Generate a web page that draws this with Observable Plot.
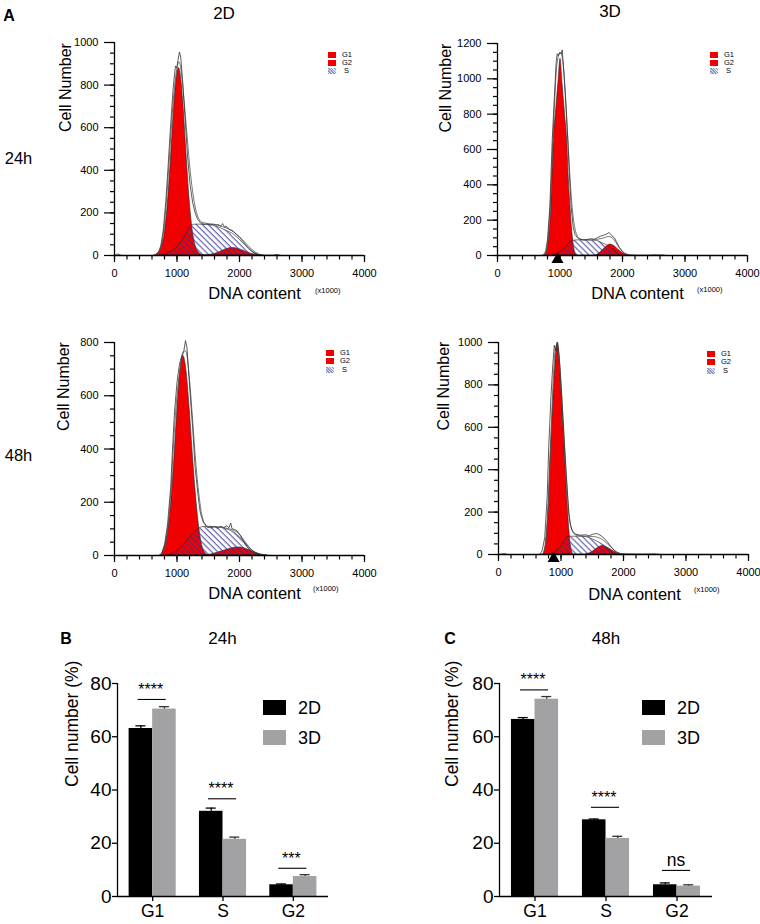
<!DOCTYPE html>
<html><head><meta charset="utf-8">
<script src="https://cdn.jsdelivr.net/npm/d3@7"></script>
<script src="https://cdn.jsdelivr.net/npm/@observablehq/plot@0.6"></script>
<style>
body{margin:0;background:#fff;font-family:"Liberation Sans",Arial,Helvetica,sans-serif;color:#000;}
#page{position:relative;width:760px;height:924px;overflow:hidden;background:#fff;}
.panel{position:absolute;}
.lbl{position:absolute;transform:translate(-50%,-50%);white-space:nowrap;line-height:1;}
.lft{position:absolute;transform:translate(0,-50%);white-space:nowrap;line-height:1;}
.sw{position:absolute;}
</style></head>
<body><div id="page">
<svg width="0" height="0" style="position:absolute"><defs>
<pattern id="hatchS" patternUnits="userSpaceOnUse" width="4.2" height="4.2" patternTransform="rotate(-45)">
<line x1="1" y1="0" x2="1" y2="4.2" stroke="#34348c" stroke-width="0.9"/></pattern>
</defs></svg>
</div>
<script>
// ---------- tick labels ----------
const xMajor = [0, 1000, 2000, 3000, 4000];
const yMajor24_2D = [0, 200, 400, 600, 800, 1000];
const yMajor24_3D = [0, 200, 400, 600, 800, 1000, 1200];
const yMajor48_2D = [0, 200, 400, 600, 800];
const yMajor48_3D = [0, 200, 400, 600, 800, 1000];
const barTicks = [0, 20, 40, 60, 80];
const phases = ["G1", "S", "G2"];
const groups = ["2D", "3D"];

// ---------- histogram curves [DNA content (x1000), cell number] ----------
// 2D 24h
const h24_2D_G1 = [[650,0],[700,10],[750,34],[800,99],[850,231],[900,438],[950,676],[1000,848],[1030,880],[1050,865],[1100,719],[1150,485],[1200,267],[1250,119],[1300,43],[1350,13],[1400,3],[1450,0]];
const h24_2D_G2 = [[1450,0],[1550,4],[1650,12],[1750,25],[1800,31],[1880,35],[1950,33],[2050,24],[2150,12],[2250,4],[2350,0]];
const h24_2D_S  = [[750,0],[850,8],[950,25],[1050,55],[1150,100],[1200,128],[1250,142],[1300,145],[1400,145],[1500,143],[1600,138],[1700,128],[1800,115],[1900,100],[2000,75],[2100,45],[2200,18],[2300,3],[2350,0]];
const h24_2D_raw = [[0,0],[30,5],[60,7],[90,3],[120,0],[620,0],[660,4],[700,14],[740,45],[780,120],[820,250],[860,430],[900,620],[940,790],[975,890],[995,880],[1015,915],[1040,955],[1060,930],[1090,820],[1130,640],[1170,460],[1210,330],[1250,250],[1290,200],[1330,170],[1380,152],[1430,146],[1480,148],[1530,144],[1580,147],[1620,143],[1660,145],[1700,138],[1730,150],[1760,134],[1800,135],[1840,122],[1880,118],[1920,108],[1960,95],[2000,85],[2050,68],[2100,50],[2150,34],[2200,20],[2250,10],[2300,5],[2400,2],[2550,2],[2600,5],[2650,1],[2700,0],[4000,0]];
const h24_2D_fit = [[600,0],[700,12],[750,48],[800,150],[850,330],[900,560],[950,760],[1000,880],[1030,910],[1060,880],[1100,770],[1150,600],[1200,430],[1250,300],[1300,215],[1350,172],[1400,156],[1500,150],[1600,146],[1700,138],[1800,128],[1900,112],[2000,88],[2100,58],[2200,28],[2300,8],[2400,0]];
// 3D 24h
const h24_3D_G1 = [[760,0],[790,20],[820,85],[860,270],[900,650],[940,830],[980,1000],[1008,1113],[1040,975],[1080,800],[1115,650],[1140,440],[1168,273],[1190,160],[1211,85],[1240,20],[1270,0]];
const h24_3D_G2 = [[1580,0],[1650,18],[1720,42],[1808,62],[1880,50],[1950,28],[2020,10],[2080,0]];
const h24_3D_S  = [[880,0],[950,10],[1050,30],[1120,55],[1168,75],[1220,84],[1300,86],[1400,86],[1500,85],[1600,82],[1700,66],[1760,57],[1850,35],[1920,12],[1970,0]];
const h24_3D_raw = [[0,0],[700,0],[740,5],[770,25],[800,90],[837,273],[875,651],[910,900],[940,1100],[955,1142],[975,1130],[1000,1150],[1020,1140],[1035,1164],[1060,1050],[1090,880],[1125,651],[1150,460],[1179,273],[1211,160],[1240,120],[1275,102],[1320,92],[1355,89],[1400,88],[1450,92],[1500,95],[1550,92],[1595,100],[1650,110],[1700,115],[1750,122],[1781,130],[1800,125],[1830,112],[1870,100],[1900,80],[1950,45],[2000,22],[2050,8],[2100,3],[2200,2],[2400,2],[2500,4],[2650,3],[2700,0],[4000,0]];
const h24_3D_fit = [[720,0],[760,8],[800,70],[850,330],[900,760],[950,1080],[1000,1150],[1030,1130],[1070,1000],[1110,760],[1150,500],[1190,290],[1230,170],[1270,115],[1320,95],[1400,88],[1500,88],[1600,92],[1700,100],[1780,108],[1850,95],[1920,60],[1980,30],[2050,10],[2150,2],[2250,0]];
// 2D 48h
const h48_2D_G1 = [[750,0],[800,30],[850,80],[900,178],[950,334],[1000,524],[1050,686],[1100,750],[1150,697],[1200,560],[1250,389],[1300,234],[1350,115],[1400,40],[1450,10],[1500,0]];
const h48_2D_G2 = [[1450,0],[1550,4],[1650,10],[1750,18],[1850,25],[1950,30],[2000,30],[2100,25],[2200,16],[2300,7],[2400,1],[2450,0]];
const h48_2D_S  = [[850,0],[950,8],[1050,25],[1150,50],[1250,78],[1350,100],[1400,106],[1500,108],[1600,107],[1700,104],[1800,98],[1900,88],[2000,70],[2100,45],[2200,20],[2300,5],[2350,0]];
const h48_2D_raw = [[0,0],[700,0],[730,3],[760,12],[800,40],[850,120],[900,260],[923,375],[960,540],[1000,650],[1040,720],[1083,757],[1110,770],[1136,807],[1160,780],[1200,640],[1250,480],[1290,330],[1323,257],[1350,200],[1376,157],[1420,125],[1483,106],[1550,104],[1600,108],[1650,102],[1700,110],[1750,105],[1800,112],[1830,104],[1860,122],[1880,100],[1920,98],[1963,92],[2000,80],[2050,60],[2123,31],[2200,14],[2300,6],[2400,2],[2500,0],[4000,0]];
const h48_2D_fit = [[720,0],[780,12],[850,100],[900,230],[950,440],[1000,600],[1050,700],[1100,760],[1130,770],[1160,750],[1200,660],[1250,510],[1300,350],[1350,230],[1400,150],[1450,118],[1500,108],[1600,108],[1700,106],[1800,102],[1900,95],[2000,80],[2100,48],[2200,20],[2300,6],[2400,1],[2450,0]];
// 3D 48h
const h48_3D_G1 = [[720,0],[760,60],[800,230],[830,450],[860,630],[900,850],[946,1000],[980,900],[1020,700],[1057,500],[1090,320],[1120,170],[1150,60],[1180,10],[1200,0]];
const h48_3D_G2 = [[1400,0],[1480,8],[1550,22],[1600,33],[1660,40],[1720,35],[1800,22],[1880,8],[1950,0]];
const h48_3D_S  = [[800,0],[900,10],[1000,35],[1050,60],[1100,80],[1150,84],[1300,84],[1400,82],[1500,72],[1600,58],[1700,40],[1800,15],[1850,0]];
const h48_3D_raw = [[0,0],[60,3],[100,4],[140,0],[640,0],[669,3],[700,20],[740,80],[780,280],[802,493],[840,750],[870,900],[893,987],[915,960],[946,1000],[970,940],[1000,800],[1040,600],[1080,400],[1110,260],[1123,193],[1150,140],[1177,115],[1230,96],[1311,91],[1400,93],[1450,88],[1500,95],[1550,98],[1578,99],[1620,92],[1680,80],[1740,60],[1792,40],[1850,20],[1900,10],[1952,5],[2050,3],[2300,2],[2500,3],[2600,0],[4000,0]];
const h48_3D_fit = [[680,0],[720,10],[760,60],[800,250],[840,560],[880,850],[910,970],[940,990],[970,930],[1010,760],[1050,540],[1090,340],[1130,190],[1170,120],[1220,95],[1300,88],[1400,86],[1500,85],[1600,80],[1700,62],[1780,40],[1850,20],[1920,6],[2000,0]];
// gate markers (triangles)
const gate24_3D = [960];
const gate48_3D = [882];

// ---------- bar chart values (%) ----------
const b24_2D = [63.1, 32.0, 4.4];
const b24_2D_err = [1.0, 1.2, 0.3];
const b24_3D = [70.4, 21.5, 7.5];
const b24_3D_err = [0.9, 0.8, 0.7];
const b24_sig = ["****", "****", "***"];
const b24_sigY = [74.0, 36.7, 10.6];
const b48_2D = [66.5, 28.8, 4.4];
const b48_2D_err = [0.7, 0.3, 0.7];
const b48_3D = [74.1, 21.8, 3.9];
const b48_3D_err = [1.0, 0.8, 0.5];
const b48_sig = ["****", "****", "ns"];
const b48_sigY = [77.6, 33.5, 9.8];

// ---------- helpers ----------
const FONT = '"Liberation Sans", Arial, Helvetica, sans-serif';
const RED = "#f00000";
const GRAY = "#a2a2a4";
const page = document.getElementById("page");
const fmt = d => String(d);
const px = d => d[0], py = d => d[1];

function place(node, left, top) {
  const div = document.createElement("div");
  div.className = "panel";
  div.style.left = left + "px";
  div.style.top = top + "px";
  div.appendChild(node);
  page.appendChild(div);
}
function label(text, x, y, size, bold, cls) {
  const d = document.createElement("div");
  d.className = cls || "lbl";
  d.style.left = x + "px"; d.style.top = y + "px";
  d.style.fontSize = size + "px";
  if (bold) d.style.fontWeight = "bold";
  d.textContent = text;
  page.appendChild(d);
}
function swatch(x, y, w, h, bg) {
  const d = document.createElement("div");
  d.className = "sw";
  d.style.left = x + "px"; d.style.top = y + "px";
  d.style.width = w + "px"; d.style.height = h + "px";
  d.style.background = bg;
  page.appendChild(d);
}

function hist(c) {
  const yMinor = d3.range(0, c.ymax + 1, 50);
  const xMinor = d3.range(0, 4001, 200);
  const svg = Plot.plot({
    width: 380, height: c.h,
    marginLeft: c.ml, marginRight: c.mr, marginTop: c.mt, marginBottom: c.h - c.bottom,
    style: {fontFamily: FONT, background: "transparent", overflow: "visible"},
    x: {domain: [0, 4000]},
    y: {domain: [0, c.ymax]},
    marks: [
      Plot.areaY(c.g1, {x: px, y: py, fill: RED, stroke: "#222", strokeWidth: 0.6, curve: "monotone-x"}),
      Plot.areaY(c.g2, {x: px, y: py, fill: RED, stroke: "#222", strokeWidth: 0.6, curve: "monotone-x"}),
      Plot.areaY(c.s, {x: px, y: py, fill: "url(#hatchS)", stroke: "#222", strokeWidth: 0.6, curve: "monotone-x"}),
      Plot.line(c.fit, {x: px, y: py, stroke: "#555", strokeWidth: 0.8, curve: "monotone-x"}),
      Plot.line(c.raw, {x: px, y: py, stroke: "#333", strokeWidth: 0.8}),
      Plot.ruleY([0], {stroke: "#000", strokeWidth: 1.3}),
      Plot.ruleX([0], {stroke: "#000", strokeWidth: 1.3}),
      Plot.axisX({ticks: xMajor, tickSize: 7, tickPadding: 7, fontSize: 11, tickFormat: fmt, label: null, strokeWidth: 1.2}),
      Plot.axisX({ticks: xMinor, tickSize: 4.5, tickFormat: () => "", label: null, strokeWidth: 1.2}),
      Plot.axisY({ticks: c.yMajor, tickSize: 10, tickPadding: 6, fontSize: 11, tickFormat: fmt, label: null, strokeWidth: 1.2}),
      Plot.axisY({ticks: yMinor, tickSize: 4, tickFormat: () => "", label: null, strokeWidth: 1.2}),
      Plot.dot(c.gate, {x: d => d, y: () => 0, symbol: "triangle", fill: "#000", stroke: "none", r: 4.5, dy: 4}),
      Plot.text(["Cell Number"], {frameAnchor: "left", rotate: -90, dx: -c.ylx, dy: c.yly, fontSize: 16}),
      Plot.text(["DNA content"], {frameAnchor: "bottom", dx: c.dnx, dy: c.dny, fontSize: 16.5}),
      Plot.text(["(x1000)"], {frameAnchor: "bottom-right", dx: c.kx, dy: c.ky, fontSize: 7.5})
    ]
  });
  place(svg, c.left, c.top);
  // legend
  const lx = c.left + c.legX, ly = c.top + c.legY;
  swatch(lx, ly, 8, 6, RED);
  swatch(lx, ly + 8, 8, 6, RED);
  swatch(lx, ly + 16.5, 8, 6, "repeating-linear-gradient(45deg,#8f93c4 0 1px,#e2e4f3 1px 2px)");
  label("G1", lx + 14, ly + 3, 7.5, false, "lft");
  label("G2", lx + 14, ly + 11, 7.5, false, "lft");
  label("S", lx + 16, ly + 19.5, 7.5, false, "lft");
}

function bars(c) {
  const W = 380, H = 304, mt = 63, mb = 28;
  const fw = W - c.ml - c.mr;
  const u = 3 / fw;                 // data units per pixel along x
  const bw = 23.55 * u;             // one bar width, in category units
  const rows = phases.map((p, i) => ({
    i, phase: p, v2: c.v2[i], e2: c.e2[i], v3: c.v3[i], e3: c.e3[i], sig: c.sig[i], sigY: c.sigY[i]
  }));
  const stars = rows.filter(d => d.sig !== "ns");
  const ns = rows.filter(d => d.sig === "ns");
  const svg = Plot.plot({
    width: W, height: H, marginLeft: c.ml, marginRight: c.mr, marginTop: mt, marginBottom: mb,
    style: {fontFamily: FONT, background: "transparent", overflow: "visible"},
    x: {domain: [-0.5, 2.5]},
    y: {domain: [0, 80]},
    marks: [
      Plot.rectY(rows, {x1: d => d.i - bw, x2: d => d.i, y: "v2", fill: "#000"}),
      Plot.rectY(rows, {x1: d => d.i, x2: d => d.i + bw, y: "v3", fill: GRAY}),
      Plot.ruleX(rows, {x: d => d.i - bw / 2, y1: "v2", y2: d => d.v2 + d.e2, stroke: "#000", strokeWidth: 1.3}),
      Plot.ruleX(rows, {x: d => d.i + bw / 2, y1: "v3", y2: d => d.v3 + d.e3, stroke: "#333", strokeWidth: 1.3}),
      Plot.ruleY(rows, {x1: d => d.i - bw / 2 - 5 * u, x2: d => d.i - bw / 2 + 5 * u, y: d => d.v2 + d.e2, stroke: "#000", strokeWidth: 1.3}),
      Plot.ruleY(rows, {x1: d => d.i + bw / 2 - 5 * u, x2: d => d.i + bw / 2 + 5 * u, y: d => d.v3 + d.e3, stroke: "#333", strokeWidth: 1.3}),
      Plot.ruleY(rows, {x1: d => d.i - bw + 9 * u, x2: d => d.i + bw - 10 * u, y: "sigY", stroke: "#000", strokeWidth: 1.1}),
      Plot.text(stars, {x: "i", y: "sigY", text: "sig", dx: -2, dy: -4.5, fontSize: 16, lineAnchor: "bottom"}),
      Plot.text(ns, {x: "i", y: "sigY", text: "sig", dx: -1, dy: -4.7, fontSize: 17.5, lineAnchor: "bottom"}),
      Plot.ruleX([-0.5], {stroke: "#000", strokeWidth: 1.3}),
      Plot.ruleY([0], {stroke: "#000", strokeWidth: 1.3}),
      Plot.axisY({ticks: barTicks, tickSize: 5, tickPadding: 1, fontSize: 19, tickFormat: fmt, label: null, strokeWidth: 1.3}),
      Plot.axisX({ticks: [0, 1, 2], tickFormat: i => phases[i], tickSize: 5, tickPadding: 3, fontSize: 17.5, label: null, strokeWidth: 1.3}),
      Plot.text(["Cell number (%)"], {frameAnchor: "left", rotate: -90, dx: -c.ylx, dy: -3, fontSize: 17.5})
    ]
  });
  place(svg, c.left, c.top);
  swatch(c.legX, 700, 23, 14.5, "#000");
  swatch(c.legX, 730, 23, 14.5, GRAY);
  label("2D", c.legX + 35, 707.5, 18, false, "lft");
  label("3D", c.legX + 35, 737.5, 18, false, "lft");
}

// ---------- panels ----------
hist({left: 0, top: 0, h: 310, ml: 114, mr: 16, mt: 42, bottom: 255, ymax: 1000, yMajor: yMajor24_2D,
  g1: h24_2D_G1, g2: h24_2D_G2, s: h24_2D_S, raw: h24_2D_raw, fit: h24_2D_fit, gate: [],
  ylx: 49, yly: -17, dnx: 15, dny: 43, kx: -24, ky: 37, legX: 328, legY: 51.5});
hist({left: 380, top: 0, h: 310, ml: 117, mr: 13, mt: 43, bottom: 255, ymax: 1200, yMajor: yMajor24_3D,
  g1: h24_3D_G1, g2: h24_3D_G2, s: h24_3D_S, raw: h24_3D_raw, fit: h24_3D_fit, gate: gate24_3D,
  ylx: 52, yly: -17, dnx: 15, dny: 43, kx: -25, ky: 36, legX: 330, legY: 51.7});
hist({left: 0, top: 300, h: 310, ml: 114, mr: 16, mt: 42, bottom: 255, ymax: 800, yMajor: yMajor48_2D,
  g1: h48_2D_G1, g2: h48_2D_G2, s: h48_2D_S, raw: h48_2D_raw, fit: h48_2D_fit, gate: [],
  ylx: 51, yly: -18, dnx: 15, dny: 43, kx: -26, ky: 35, legX: 326, legY: 50});
hist({left: 380, top: 300, h: 310, ml: 118, mr: 12, mt: 42, bottom: 254, ymax: 1000, yMajor: yMajor48_3D,
  g1: h48_3D_G1, g2: h48_3D_G2, s: h48_3D_S, raw: h48_3D_raw, fit: h48_3D_fit, gate: gate48_3D,
  ylx: 55, yly: -18, dnx: 11, dny: 45, kx: -29, ky: 37, legX: 327, legY: 51});

bars({left: 0, top: 620, ml: 117, mr: 52, v2: b24_2D, e2: b24_2D_err, v3: b24_3D, e3: b24_3D_err,
  sig: b24_sig, sigY: b24_sigY, ylx: 45, legX: 263});
bars({left: 380, top: 620, ml: 119, mr: 48, v2: b48_2D, e2: b48_2D_err, v3: b48_3D, e3: b48_3D_err,
  sig: b48_sig, sigY: b48_sigY, ylx: 47.5, legX: 642});

// ---------- titles ----------
label("A", 9, 15.5, 16, true);
label("2D", 224, 13, 17);
label("3D", 610, 11, 17);
label("24h", 18.5, 158, 16.5);
label("48h", 18.5, 455, 16.5);
label("B", 66, 638.5, 16, true);
label("24h", 222.5, 638, 17);
label("C", 450, 638.5, 16, true);
label("48h", 606, 638, 17);
</script>
</body></html>
